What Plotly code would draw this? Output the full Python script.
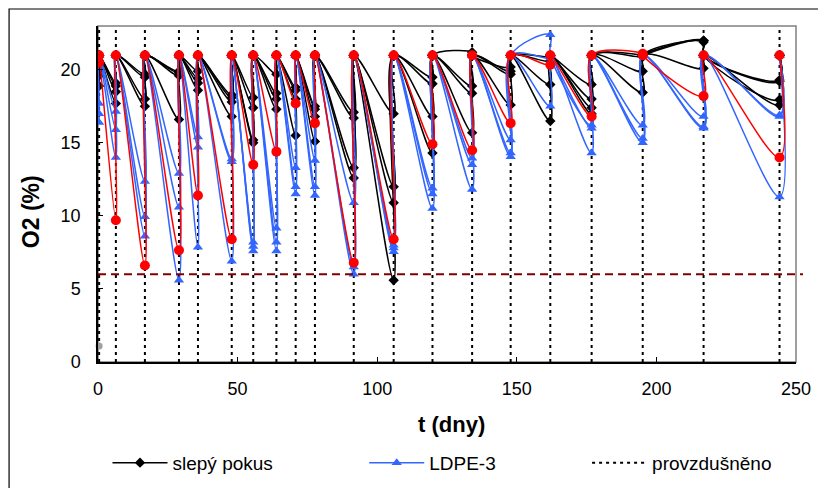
import plotly.graph_objects as go

# Aeration days (vertical dotted lines)
aeration_days = [0.4, 6.4, 16.8, 29.0, 35.8, 47.9, 55.6, 63.9, 70.8, 77.7,
                 91.6, 105.9, 119.8, 134.0, 147.8, 162.0, 176.8, 195.1, 216.9, 244.1]

# O2 right after aeration
after_aeration = [21.0, 21.0, 21.0, 21.0, 21.0, 21.0, 21.0, 21.0, 21.0, 21.0,
                  21.0, 21.0, 21.0, 21.0, 21.0, 21.0, 21.0, 21.0, 21.0, 21.0]
start_day = 0.0
start_o2 = 21.0

# O2 just before each aeration - blank (slepý pokus), 4 replicates
blank_1 = [20.0, 19.1, 19.7, 19.9, 19.9, 18.3, 18.1, 19.7, 18.8, 17.5,
           17.1, 17.0, 19.5, 21.2, 20.2, 20.9, 19.0, 21.0, 22.0, 19.3]
blank_2 = [19.6, 18.9, 19.5, 19.8, 19.4, 18.1, 17.4, 18.4, 18.6, 17.3,
           16.7, 12.0, 19.05, 18.9, 19.9, 20.6, 18.0, 20.9, 22.0, 19.2]
blank_3 = [18.9, 18.5, 18.0, 19.6, 19.1, 17.8, 15.2, 18.0, 18.0, 16.8,
           13.3, 10.9, 16.8, 18.4, 19.7, 19.0, 17.4, 19.9, 21.9, 17.95]
blank_4 = [20.3, 17.7, 17.5, 16.6, 18.6, 16.8, 15.0, 17.3, 15.5, 15.1,
           12.6, 5.6, 14.3, 15.7, 17.6, 16.5, 17.0, 18.45, 20.1, 17.6]

# LDPE-3, 3 replicates
ldpe_1 = [17.7, 17.15, 12.35, 12.9, 15.4, 13.9, 8.2, 9.15, 13.3, 13.8,
          10.9, 8.0, 11.9, 13.95, 15.2, 22.4, 16.2, 16.2, 16.8, 16.9]
ldpe_2 = [17.0, 15.9, 9.95, 10.6, 14.7, 13.7, 7.9, 8.2, 12.0, 12.0,
          6.5, 7.8, 11.5, 13.5, 14.3, 20.8, 16.0, 15.3, 16.1, 16.8]
ldpe_3 = [16.4, 14.0, 8.6, 5.6, 7.85, 6.9, 7.6, 7.6, 11.5, 11.4,
          6.0, 7.55, 10.5, 11.8, 14.05, 17.5, 14.3, 15.0, 16.0, 11.3]

# red series (not in legend)
red_series = [20.5, 9.7, 6.6, 7.65, 11.4, 8.4, 13.5, 14.4, 17.7, 16.35,
              6.8, 8.4, 14.9, 14.5, 16.35, 20.35, 16.8, 21.1, 18.2, 14.0]

# grey point
grey_day = [0.4]
grey_o2 = [1.1]

limit_o2 = 6.0
y_min, y_max = 0.0, 23.0

BLACK = "#000000"
BLUE = "#3366FF"
RED = "#FF0000"
FONT = "Liberation Sans"


def build(pre):
    xs = [start_day]
    ys = [start_o2]
    for d, p, a in zip(aeration_days, pre, after_aeration):
        xs += [d, d]
        ys += [p, a]
    return xs, ys


fig = go.Figure()

# aeration lines
ax, ay = [], []
for d in aeration_days:
    ax += [d, d, None]
    ay += [y_min, y_max, None]
fig.add_trace(go.Scatter(x=ax, y=ay, mode="lines", name="provzdušněno",
                         line=dict(color=BLACK, width=2, dash="3px,4px"),
                         legend="legend3", hoverinfo="skip"))

for i, s in enumerate([blank_1, blank_2, blank_3, blank_4]):
    x, y = build(s)
    fig.add_trace(go.Scatter(x=x, y=y, mode="lines+markers", name="slepý pokus",
                             showlegend=(i == 0), legend="legend",
                             line=dict(color=BLACK, width=1.5, shape="spline", smoothing=1),
                             marker=dict(symbol="diamond", size=8, color=BLACK)))

for i, s in enumerate([ldpe_1, ldpe_2, ldpe_3]):
    x, y = build(s)
    fig.add_trace(go.Scatter(x=x, y=y, mode="lines+markers", name="LDPE-3",
                             showlegend=(i == 0), legend="legend2",
                             line=dict(color=BLUE, width=1.5, shape="spline", smoothing=1),
                             marker=dict(symbol="triangle-up", size=9, color=BLUE)))

x, y = build(red_series)
fig.add_trace(go.Scatter(x=x, y=y, mode="lines+markers", name="red", showlegend=False,
                         line=dict(color=RED, width=1.5, shape="spline", smoothing=1),
                         marker=dict(symbol="circle", size=10, color=RED)))

fig.add_trace(go.Scatter(x=grey_day, y=grey_o2, mode="markers", showlegend=False,
                         marker=dict(symbol="circle", size=7, color="#A0A0A0"),
                         cliponaxis=False))

# limit line
fig.add_shape(type="line", xref="paper", yref="y", x0=0, x1=1.01, y0=limit_o2, y1=limit_o2,
              line=dict(color="#800000", width=2, dash="8px,5px"))
# plot area border (grey)
fig.add_shape(type="rect", xref="paper", yref="paper", x0=0, x1=1, y0=0, y1=1,
              line=dict(color="#808080", width=1.5), layer="below")
# outer frame
fig.add_shape(type="rect", xref="paper", yref="paper", x0=-0.1274, x1=1.05, y0=-0.40, y1=1.0506,
              line=dict(color=BLACK, width=1.2), layer="below")

axis_common = dict(showgrid=False, zeroline=False, showline=True, linecolor=BLACK, linewidth=1.5,
                   ticks="inside", ticklen=5, tickcolor=BLACK, tickwidth=1,
                   tickfont=dict(family=FONT, size=18, color=BLACK))
fig.update_xaxes(range=[0, 250], tickvals=[0, 50, 100, 150, 200, 250], ticklabelstandoff=10,
                 **axis_common)
fig.update_yaxes(range=[y_min, y_max], tickvals=[0, 5, 10, 15, 20], ticklabelstandoff=12,
                 **axis_common)

fig.add_annotation(text="<b>t (dny)</b>", xref="paper", yref="paper", x=0.507, y=-0.185,
                   xanchor="center", yanchor="middle",
                   showarrow=False, font=dict(family=FONT, size=22, color=BLACK))
fig.add_annotation(text="<b>O2 (%)</b>", xref="paper", yref="paper", x=-0.096, y=0.449,
                   xanchor="center", yanchor="middle",
                   textangle=-90, showarrow=False, font=dict(family=FONT, size=23, color=BLACK))

leg = dict(orientation="h", yanchor="middle", y=-0.30, xanchor="left",
           font=dict(family=FONT, size=19, color=BLACK), itemwidth=55,
           bgcolor="rgba(0,0,0,0)")
fig.update_layout(
    width=818, height=488,
    margin=dict(l=98, r=21.5, t=26, b=126, autoexpand=False),
    plot_bgcolor="white", paper_bgcolor="white",
    font=dict(family=FONT),
    legend=dict(x=0.0136, **leg),
    legend2=dict(x=0.3814, **leg),
    legend3=dict(x=0.7007, **leg),
)

fig.write_html("out.html")
